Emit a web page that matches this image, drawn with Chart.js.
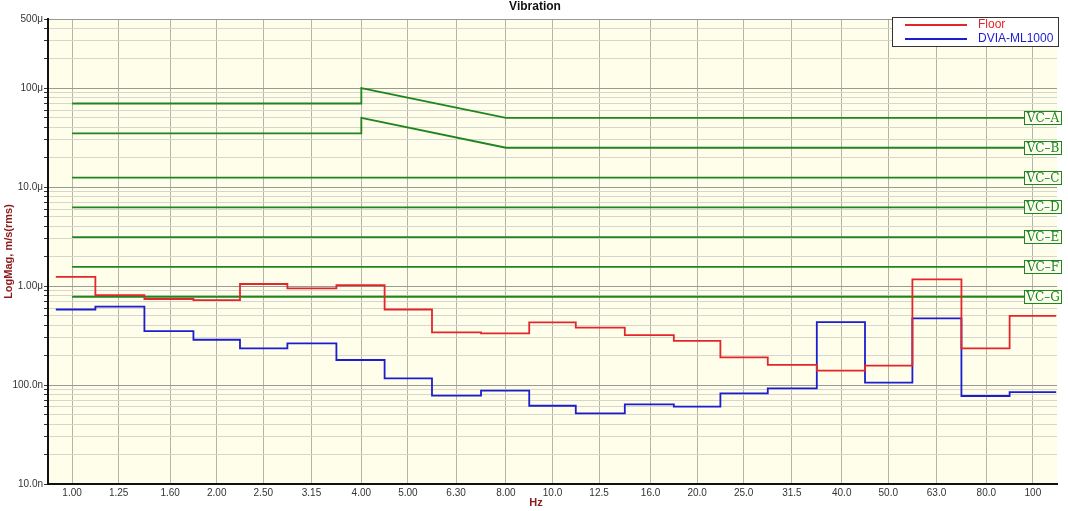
<!DOCTYPE html>
<html><head><meta charset="utf-8">
<script src="https://cdn.jsdelivr.net/npm/chart.js@4.4.1/dist/chart.umd.min.js"></script>
<style>html,body{margin:0;padding:0;background:#fff;}canvas{display:block;}</style>
</head><body>
<canvas id="c" width="1068" height="511"></canvas>
<script>
// 1/3-octave band centre frequencies (Hz) and their tick labels
const bandCenters = [1.00,1.25,1.60,2.00,2.50,3.15,4.00,5.00,6.30,8.00,10.0,12.5,16.0,20.0,25.0,31.5,40.0,50.0,63.0,80.0,100];
const xTickLabels = ['1.00','1.25','1.60','2.00','2.50','3.15','4.00','5.00','6.30','8.00','10.0','12.5','16.0','20.0','25.0','31.5','40.0','50.0','63.0','80.0','100'];
// band velocities in micro m/s (rms)
const floorValues = [1.24,0.81,0.74,0.72,1.05,0.95,1.02,0.58,0.34,0.333,0.43,0.38,0.32,0.28,0.19,0.16,0.14,0.157,1.17,0.235,0.50];
const dviaValues  = [0.58,0.62,0.35,0.287,0.235,0.264,0.179,0.117,0.078,0.0877,0.0618,0.0518,0.0638,0.0604,0.0824,0.0927,0.433,0.106,0.472,0.0775,0.085];
// vibration criteria curves (micro m/s)
const vcNames  = ['VC–A','VC–B','VC–C','VC–D','VC–E','VC–F','VC–G'];
const vcLow    = [70,35,12.5,6.25,3.12,1.56,0.78];   // below 4 Hz
const vcAt4Hz  = [100,50,12.5,6.25,3.12,1.56,0.78];  // at 4 Hz
const vcHigh   = [50,25,12.5,6.25,3.12,1.56,0.78];   // from 8 Hz up
// y tick labels
const yTickValues = [0.01,0.1,1,10,100,500];
const yTickLabels = ['10.0n','100.0n','1.00μ','10.0μ','100μ','500μ'];

const xMin = bandCenters[0] / Math.pow(2, 1/6);
const xMax = bandCenters[bandCenters.length-1] * Math.pow(2, 1/6);

function bandSteps(values){
  const pts = [];
  const n = bandCenters.length;
  for (let i = 0; i < n; i++){
    const f = bandCenters[i];
    const lo = i === 0 ? f / Math.pow(bandCenters[1]/bandCenters[0], 0.35) : Math.sqrt(bandCenters[i-1]*f);
    const hi = i === n-1 ? f * Math.sqrt(f/bandCenters[n-2]) : Math.sqrt(f*bandCenters[i+1]);
    pts.push({x: lo, y: values[i]});
    pts.push({x: hi, y: values[i]});
  }
  return pts;
}
function vcCurve(i){
  return [
    {x: 1, y: vcLow[i]}, {x: 4, y: vcLow[i]}, {x: 4, y: vcAt4Hz[i]},
    {x: 8, y: vcHigh[i]}, {x: xMax, y: vcHigh[i]}
  ];
}

const green = '#1f861f';
const red = '#e3262a', blue = '#1c1cd0';
const datasets = [
  {label:'Floor', data: bandSteps(floorValues), borderColor:red, borderWidth:1.8},
  {label:'DVIA-ML1000', data: bandSteps(dviaValues), borderColor:blue, borderWidth:1.8},
];
vcNames.forEach((n,i)=>datasets.push({label:n, data: vcCurve(i), borderColor: green, borderWidth:1.8}));
datasets.forEach(d=>{d.pointRadius=0; d.fill=false; d.tension=0;});

const yAllTicks = [];
[0.01,0.1,1,10,100].forEach(d=>{for(let k=1;k<=9;k++){const v=+(k*d).toPrecision(6); if(v<=500) yAllTicks.push(v);}});
function isMajorY(v){ return yTickValues.some(t=>Math.abs(v-t)/t<1e-6); }
function yLabel(v){ const i = yTickValues.findIndex(t=>Math.abs(v-t)/t<1e-6); return i>=0 ? yTickLabels[i] : ''; }

const darkRed = '#8b1a1a';
const deco = {
  id:'deco',
  beforeDraw(chart){
    const {ctx, chartArea:a} = chart;
    ctx.save(); ctx.fillStyle='#fefeea'; ctx.fillRect(a.left,a.top,a.right-a.left,a.bottom-a.top); ctx.restore();
  },
  afterDraw(chart){
    const {ctx, chartArea:a, scales} = chart;
    ctx.save();
    // title
    ctx.fillStyle='#111'; ctx.font='bold 12px "Liberation Sans", Arial, sans-serif';
    ctx.textAlign='center'; ctx.textBaseline='middle';
    ctx.fillText('Vibration', 535, 7);
    // axis titles
    ctx.fillStyle=darkRed; ctx.font='bold 11px "Liberation Sans", Arial, sans-serif';
    ctx.fillText('Hz', 536, 503);
    ctx.save(); ctx.translate(9, (a.top+a.bottom)/2); ctx.rotate(-Math.PI/2);
    ctx.fillText('LogMag, m/s(rms)', 0, 0); ctx.restore();
    // VC labels
    ctx.font='12px "DejaVu Serif", serif';
    vcNames.forEach((n,i)=>{
      const y = Math.round(scales.y.getPixelForValue(vcHigh[i]));
      const x0 = a.right - 33, w = 38, h = 14;
      ctx.fillStyle='#fdfdf0'; ctx.fillRect(x0, y-h/2, w, h);
      ctx.strokeStyle=green; ctx.lineWidth=1; ctx.strokeRect(x0+0.5, y-h/2+0.5, w-1, h-1);
      ctx.fillStyle=green; ctx.textAlign='center'; ctx.textBaseline='middle';
      ctx.fillText(n, x0+w/2, y+1);
    });
    // legend
    ctx.fillStyle='#fff'; ctx.fillRect(892, 17, 167, 29);
    ctx.strokeStyle='#333'; ctx.lineWidth=1; ctx.strokeRect(892.5, 17.5, 166, 29);
    ctx.lineWidth=2;
    ctx.strokeStyle=red; ctx.beginPath(); ctx.moveTo(905,25); ctx.lineTo(967,25); ctx.stroke();
    ctx.strokeStyle=blue; ctx.beginPath(); ctx.moveTo(905,39); ctx.lineTo(967,39); ctx.stroke();
    ctx.font='12px "Liberation Sans", Arial, sans-serif'; ctx.textAlign='left'; ctx.textBaseline='middle';
    ctx.fillStyle=red; ctx.fillText(datasets[0].label, 978, 25);
    ctx.fillStyle=blue; ctx.fillText(datasets[1].label, 978, 39);
    ctx.restore();
  }
};

new Chart(document.getElementById('c'), {
  type:'line',
  data:{datasets},
  options:{
    responsive:false, animation:false, devicePixelRatio:1,
    layout:{padding:{top:19,right:11,left:0,bottom:0}},
    plugins:{legend:{display:false}, tooltip:{enabled:false}, title:{display:false}},
    scales:{
      x:{
        type:'logarithmic', min:xMin, max:xMax,
        afterBuildTicks(s){ s.ticks = bandCenters.map(v=>({value:v})); },
        afterFit(s){ s.height = 27; },
        ticks:{autoSkip:false, maxRotation:0, padding:3, color:'#333',
          font:{family:'"Liberation Sans", Arial, sans-serif', size:10},
          callback:(v,i)=>xTickLabels[i]},
        grid:{color:'#b4b4ac', lineWidth:1, drawTicks:false},
        border:{color:'#111', width:2}
      },
      y:{
        type:'logarithmic', min:0.01, max:500,
        afterBuildTicks(s){ s.ticks = yAllTicks.map(v=>({value:v})); },
        afterFit(s){ s.width = 48; },
        ticks:{autoSkip:false, padding:1, color:'#333',
          font:{family:'"Liberation Sans", Arial, sans-serif', size:10},
          callback:(v)=>yLabel(v)},
        grid:{color:(c)=> (c.tick && isMajorY(c.tick.value)) ? '#9a9a94' : '#d6d6cc', lineWidth:1,
          tickLength:4, tickColor:'#333'},
        border:{color:'#111', width:2}
      }
    }
  },
  plugins:[deco]
});
</script>
</body></html>
